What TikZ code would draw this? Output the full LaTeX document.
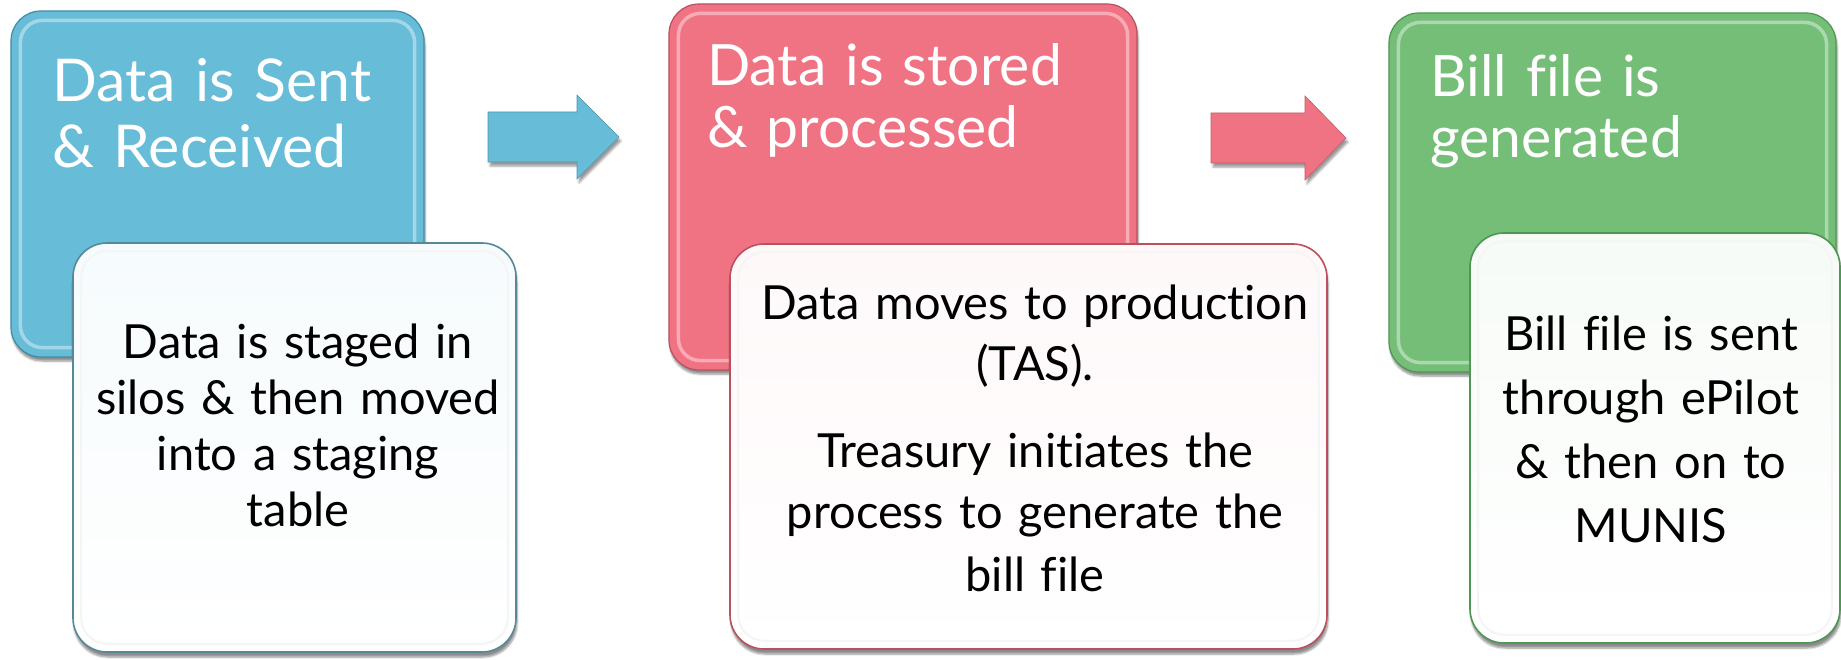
\documentclass[tikz,border=0pt]{standalone}
\usepackage{fontspec}
\setmainfont{Lato}[Ligatures=NoCommon]
\usetikzlibrary{shadows.blur}
\definecolor{cblue}{HTML}{67BCD8}
\definecolor{cred}{HTML}{F07384}
\definecolor{cgreen}{HTML}{74BE78}
\definecolor{eblue}{HTML}{3E8DA8}
\definecolor{ered}{HTML}{B9505F}
\definecolor{egreen}{HTML}{4E9653}
\begin{document}
\begin{tikzpicture}[x=1pt,y=-1pt,
  colbox/.style={rectangle, rounded corners=30pt, draw=#1, line width=1.2pt, inner sep=0pt,
    blur shadow={shadow xshift=1pt, shadow yshift=-4pt, shadow blur steps=6, shadow opacity=45}},
  whitebox/.style={rectangle, rounded corners=34pt, draw=#1, line width=1.6pt, inner sep=0pt,
    blur shadow={shadow xshift=1pt, shadow yshift=-5pt, shadow blur steps=6, shadow opacity=45}},
  rim/.style={draw=white, draw opacity=0.4, line width=3.5pt, rounded corners=22pt},
  wrim/.style={draw=black!4, line width=2pt, rounded corners=26pt},
  blockarrow/.style={fill=#1, draw=#1!80!black, line width=0.6pt,
    blur shadow={shadow xshift=2pt, shadow yshift=-4pt, shadow blur steps=5, shadow opacity=40}},
  head/.style={font=\fontsize{57}{66}\selectfont, text=white, align=left, text width=400pt, inner sep=0pt},
  body/.style={font=\fontsize{47}{56}\selectfont, text=black, align=center, inner sep=0pt}
]
\useasboundingbox (0,0) rectangle (1841,660);

% coloured boxes
\node[colbox=eblue, fill=cblue, minimum width=413pt, minimum height=346pt] (b1) at (217.5,184) {};
\draw[rim] ([shift={(10,10)}]b1.north west) rectangle ([shift={(-10,-10)}]b1.south east);
\node[colbox=ered, fill=cred, minimum width=468pt, minimum height=366pt] (b2) at (903,187) {};
\draw[rim] ([shift={(10,10)}]b2.north west) rectangle ([shift={(-10,-10)}]b2.south east);
\node[colbox=egreen, fill=cgreen, minimum width=447pt, minimum height=359pt] (b3) at (1612.5,192.5) {};
\draw[rim] ([shift={(10,10)}]b3.north west) rectangle ([shift={(-10,-10)}]b3.south east);

% block arrows
\fill[blockarrow=cblue] (488,112) -- (577,112) -- (577,95) -- (619,137) -- (577,179) -- (577,162) -- (488,162) -- cycle;
\fill[blockarrow=cred] (1211,113) -- (1305,113) -- (1305,96) -- (1346,138) -- (1305,180) -- (1305,163) -- (1211,163) -- cycle;

% headings
\node[head, anchor=base west, font=\fontsize{59}{66}\selectfont] (h1) at (52,102) {Data is Sent\\\& Received};
\node[head, anchor=base west, font=\fontsize{57}{62}\selectfont] (h2) at (707,86) {Data is stored\\\& processed};
\node[head, anchor=base west, font=\fontsize{57}{61}\selectfont] (h3) at (1430,97) {Bill file is\\generated};

% white boxes
\node[whitebox=eblue!60!gray, top color=cblue!6!white, bottom color=white, minimum width=443pt, minimum height=409pt] (w1) at (294.5,447.5) {};
\draw[wrim] ([shift={(9,9)}]w1.north west) rectangle ([shift={(-9,-9)}]w1.south east);
\node[whitebox=ered, top color=cred!5!white, bottom color=white, minimum width=597pt, minimum height=405pt] (w2) at (1028.5,446.5) {};
\draw[wrim] ([shift={(9,9)}]w2.north west) rectangle ([shift={(-9,-9)}]w2.south east);
\node[whitebox=egreen, top color=cgreen!6!white, bottom color=white, minimum width=370pt, minimum height=410pt] (w3) at (1655,438) {};
\draw[wrim] ([shift={(9,9)}]w3.north west) rectangle ([shift={(-9,-9)}]w3.south east);

% body texts
\node[body, anchor=base, text width=430pt] (t1) at (298,358) {Data is staged in\\silos \& then moved\\into a staging\\table};
\node[body, anchor=base, text width=590pt, font=\fontsize{47}{62}\selectfont] (t2) at (1035,319) {Data moves to production\\(TAS).\\[24pt]Treasury initiates the\\process to generate the\\bill file};
\node[body, anchor=base, text width=360pt, font=\fontsize{47}{64}\selectfont] (t3) at (1651,350) {Bill file is sent\\through ePilot\\\& then on to\\MUNIS};
\end{tikzpicture}
\end{document}
